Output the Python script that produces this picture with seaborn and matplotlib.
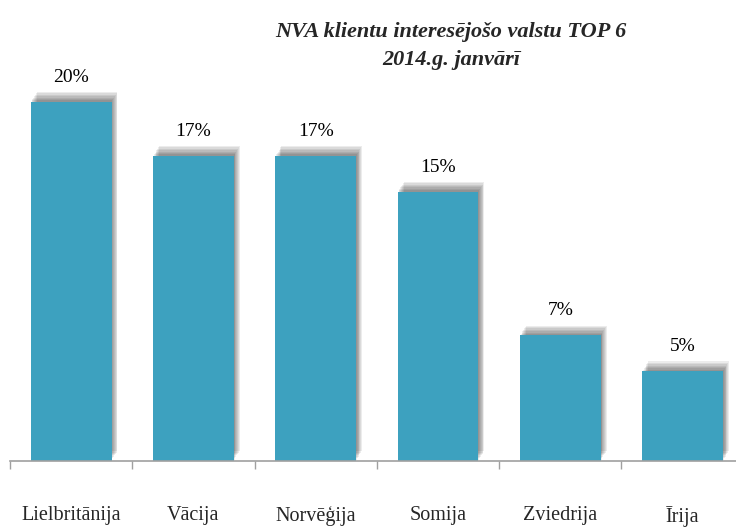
import numpy as np
import pandas as pd
import seaborn as sns
import matplotlib
matplotlib.use("Agg")
import matplotlib.pyplot as plt
import matplotlib.patheffects as pe

# dati no attēla
countries = ['Lielbritānija', 'Vācija', 'Norvēģija', 'Somija', 'Zviedrija', 'Īrija']
shares = [20, 17, 17, 15, 7, 5]
title_lines = ['NVA klientu interesējošo valstu TOP 6', '2014.g. janvārī']

df = pd.DataFrame({'valsts': countries, 'procenti': shares})

sns.set_style('white')
plt.rcParams['font.family'] = ['Liberation Serif', 'DejaVu Serif']

fig = plt.figure(figsize=(7.36, 5.28), dpi=100)
ax = fig.add_axes([10 / 736, 67 / 528, 6 * 122.3 / 736, 449 / 528])

sns.barplot(data=df, x='valsts', y='procenti', color='#3DA1BF', saturation=1,
            width=0.66, ax=ax)

# mīkla ēna bāriem (augšā un pa labi)
shadow = [pe.SimplePatchShadow(offset=(0.6 * k, 1.0 * k), shadow_rgbFace='black', alpha=0.075)
          for k in range(1, 8)]
for bar in ax.patches:
    bar.set_path_effects(shadow + [pe.Normal()])
    bar.set_edgecolor('none')

ax.bar_label(ax.containers[0], labels=[f'{v}%' for v in shares], padding=11.5,
             fontsize=14, color='black')

ax.set_xlim(-0.5, len(countries) - 0.5)
ax.set_ylim(0, 25)
ax.set_xlabel('')
ax.set_ylabel('')
ax.set_yticks([])

for s in ['top', 'right', 'left']:
    ax.spines[s].set_visible(False)
ax.spines['bottom'].set_color('#A0A0A0')
ax.spines['bottom'].set_linewidth(1.2)

ax.set_xticks(np.arange(-0.5, len(countries)), minor=True)
ax.tick_params(axis='x', which='minor', bottom=True, length=5.8, color='#A0A0A0', width=1)
ax.tick_params(axis='x', which='major', bottom=True, length=0, pad=32.5, labelsize=14.5)

fig.text(451 / 736, 1 - 32 / 528, title_lines[0], ha='center', va='center',
         fontsize=16, fontweight='bold', fontstyle='italic')
fig.text(451 / 736, 1 - 60 / 528, title_lines[1], ha='center', va='center',
         fontsize=16, fontweight='bold', fontstyle='italic')

fig.savefig('out.png', dpi=100)
